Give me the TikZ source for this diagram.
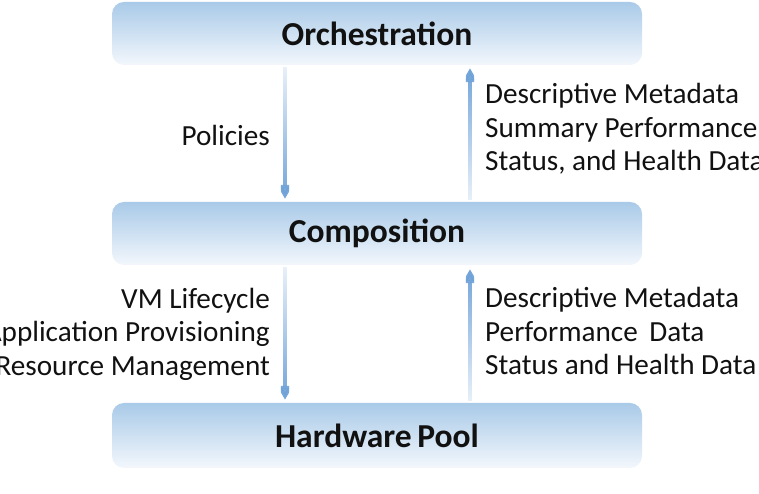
\documentclass[tikz,border=0pt]{standalone}
\usepackage{fontspec}
\setmainfont{Carlito}
\usepackage{xcolor}
\definecolor{cBarTop}{HTML}{A9CAE8}
\definecolor{cBarBot}{HTML}{F3F7FC}
\definecolor{cArrow}{HTML}{6FA2D8}
\definecolor{cText}{HTML}{111111}
\usetikzlibrary{positioning,arrows.meta,fadings}
\tikzfading[name=fade-to-bottom,top color=transparent!85,bottom color=transparent!0]
\tikzfading[name=fade-to-top,top color=transparent!0,bottom color=transparent!85]
\tikzset{
  node-bar/.style={rounded corners=12pt,top color=cBarTop,bottom color=cBarBot,
    minimum width=530pt,minimum height=63pt,inner sep=0pt,
    font=\fontsize{33.5}{38}\selectfont\bfseries,text=cText},
  node-label/.style={font=\fontsize{29.2}{33.5}\selectfont,text=cText,inner sep=0pt},
  arrow-down/.style={-{Triangle[length=14pt,width=15pt]},line width=4pt,draw=cArrow,
    path fading=fade-to-bottom},
  arrow-up/.style={-{Triangle[length=14pt,width=15pt]},line width=4pt,draw=cArrow,
    path fading=fade-to-top},
}
\begin{document}
\begin{tikzpicture}[x=1pt,y=1pt]
  \useasboundingbox (0,0) rectangle (759,494);
  % three layers
  \node[node-bar] (orch) at (377,460.5) {Orchestration};
  \node[node-bar] (comp) at (377,260.5) {Composition};
  \node[node-bar,minimum height=65pt] (hw) at (377,58.5) {Hardware\,Pool};
  % connectors between layers
  \draw[arrow-down] ([xshift=-92pt,yshift=-2pt]orch.south) -- ([xshift=-92pt,yshift=3pt]comp.north);
  \draw[arrow-up] ([xshift=93pt,yshift=2pt]comp.north) -- ([xshift=93pt,yshift=-3pt]orch.south);
  \draw[arrow-down] ([xshift=-92pt,yshift=-2pt]comp.south) -- ([xshift=-92pt,yshift=3pt]hw.north);
  \draw[arrow-up] ([xshift=93pt,yshift=2pt]hw.north) -- ([xshift=93pt,yshift=-4pt]comp.south);
  % labels
  \node[node-label,anchor=east] (policies) at (270,359) {Policies};
  \node[node-label,anchor=west,align=left] (up-top) at (485,365)
    {Descriptive Metadata\\Summary Performance,\\Status, and Health Data};
  \node[node-label,anchor=east,align=right] (down-bot) at (270,160)
    {VM Lifecycle\\Application Provisioning\\Resource Management};
  \node[node-label,anchor=west,align=left] (up-bot) at (485,163)
    {Descriptive Metadata\\Performance\, Data\\Status and Health Data};
\end{tikzpicture}
\end{document}
